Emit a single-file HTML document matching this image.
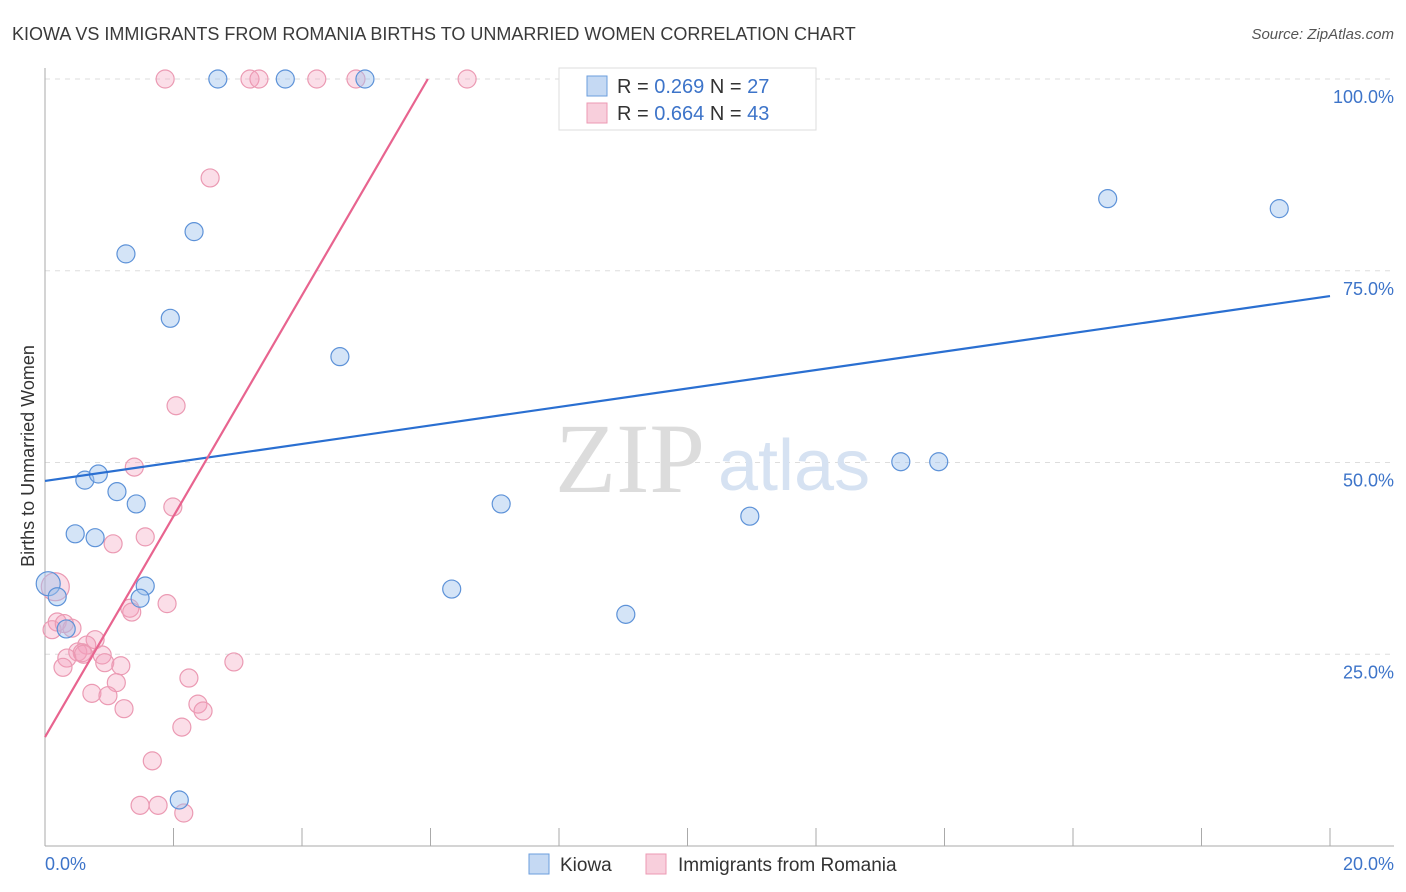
<!DOCTYPE html>
<html><head><meta charset="utf-8"><style>
body{margin:0;background:#fff;font-family:"Liberation Sans",sans-serif}
svg{display:block}
</style></head><body>
<svg id="chart" width="1406" height="892" xmlns="http://www.w3.org/2000/svg">
<text x="12" y="40" font-size="18" fill="#3a3a3a">KIOWA VS IMMIGRANTS FROM ROMANIA BIRTHS TO UNMARRIED WOMEN CORRELATION CHART</text>
<text x="1394" y="39" font-size="15" font-style="italic" fill="#555" text-anchor="end">Source: ZipAtlas.com</text>
<g id="grid"></g>
<g id="axes"></g>
<text x="555" y="492" font-size="100" font-family="Liberation Serif,serif" fill="#dcdcdc">ZIP</text>
<text x="718" y="490" font-size="72" fill="#d6e2f2">atlas</text>
<g id="pts"></g>
<g id="lines"></g>
<text transform="translate(34,456) rotate(-90)" font-size="18" fill="#333" text-anchor="middle">Births to Unmarried Women</text>
<text x="45" y="870" font-size="18" fill="#3d74c9">0.0%</text>
<text x="1394" y="870" font-size="18" fill="#3d74c9" text-anchor="end">20.0%</text>
<g>
<rect x="559" y="68" width="257" height="62" fill="#fff" stroke="#ddd"/>
<rect x="587" y="76" width="20" height="20" fill="#c5d9f3" stroke="#6b9ede"/>
<rect x="587" y="103" width="20" height="20" fill="#f8cfdc" stroke="#ec9ab3"/>
<text x="617" y="93" font-size="20" fill="#333">R = <tspan fill="#3d74c9">0.269</tspan>   N = <tspan fill="#3d74c9">27</tspan></text>
<text x="617" y="120" font-size="20" fill="#333">R = <tspan fill="#3d74c9">0.664</tspan>   N = <tspan fill="#3d74c9">43</tspan></text>
</g>
<g>
<rect x="529" y="854" width="20" height="20" fill="#c5d9f3" stroke="#6b9ede"/>
<text x="560" y="871" font-size="19" fill="#333">Kiowa</text>
<rect x="646" y="854" width="20" height="20" fill="#f8cfdc" stroke="#ec9ab3"/>
<text x="678" y="871" font-size="19" fill="#333">Immigrants from Romania</text>
</g>
</svg>
<script>
const yTicks=[25,50,75,100];
const yTickLabels=["25.0%","50.0%","75.0%","100.0%"];
const xTicks=[0,2,4,6,8,10,12,14,16,18,20];
const kiowaX=[2.69,3.74,4.98,16.54,19.21,1.26,2.32,1.95,4.59,0.62,0.83,1.12,1.42,7.10,13.32,13.91,10.97,0.47,0.78,6.33,9.04,1.56,1.48,0.05,0.19,0.33,2.09];
const kiowaY=[100,100,100,84.4,83.1,77.2,80.1,68.8,63.8,47.7,48.5,46.2,44.6,44.6,50.1,50.1,43.0,40.7,40.2,33.5,30.2,33.9,32.3,34.2,32.5,28.3,6.0];
const romX=[1.87,3.19,3.33,4.23,4.84,6.57,2.57,2.04,1.39,1.99,1.56,1.06,1.90,1.32,1.35,0.16,0.19,0.11,0.42,0.78,0.65,0.51,0.58,0.34,0.28,0.89,0.93,1.18,1.11,0.73,0.98,1.23,2.24,2.38,2.46,2.13,2.94,1.67,1.48,1.76,2.16,0.60,0.30];
const romY=[100,100,100,100,100,100,87.1,57.4,49.4,44.2,40.3,39.4,31.6,31.0,30.5,33.8,29.2,28.2,28.4,26.9,26.2,25.3,25.2,24.5,23.3,24.9,23.9,23.5,21.3,19.9,19.6,17.9,21.9,18.5,17.6,15.5,24.0,11.1,5.3,5.3,4.3,25.0,29.0];
const kiowaLine=[47.6,71.7];
const romLine=[14.2,14.4];
const X=v=>45+v/20*1285, Y=v=>846-v*7.67;
const NS="http://www.w3.org/2000/svg";
function mk(t,a,p){const e=document.createElementNS(NS,t);for(const k in a)e.setAttribute(k,a[k]);p.appendChild(e);return e;}
const grid=document.getElementById('grid'),axes=document.getElementById('axes');
yTicks.forEach((t,i)=>{
 const l=mk('line',{x1:45,x2:1394,y1:Y(t),y2:Y(t),stroke:'#ddd','stroke-dasharray':'5,5'},grid);
 
 
 const tx=mk('text',{x:1394,y:Y(t)+24,'font-size':18,fill:'#3d74c9','text-anchor':'end'},axes);
 tx.textContent=yTickLabels[i];
 
 
});
const ya=mk('line',{x1:45,x2:45,y1:68,y2:846,stroke:'#aaa'},axes);


const xa=mk('line',{x1:45,x2:1394,y1:846,y2:846,stroke:'#aaa'},axes);


xTicks.forEach(t=>{
 const l=mk('line',{x1:X(t),x2:X(t),y1:828,y2:846,stroke:'#aaa'},axes);
 
 
});
const pts=document.getElementById('pts');
romX.forEach((x,i)=>{
 const c=mk('circle',{cx:X(x),cy:Y(romY[i]),r:i==15?14:9,fill:'rgba(244,160,188,0.35)',stroke:'#eb9ab3','stroke-width':1.2},pts);
 
 
});
kiowaX.forEach((x,i)=>{
 const c=mk('circle',{cx:X(x),cy:Y(kiowaY[i]),r:i==23?12:9,fill:'rgba(160,196,238,0.45)',stroke:'#5d92d8','stroke-width':1.2},pts);
 
 
});
const lines=document.getElementById('lines');
const bl=mk('line',{x1:X(0),y1:Y(kiowaLine[0]),x2:X(20),y2:Y(kiowaLine[1]),stroke:'#2a6fd1','stroke-width':2.2},lines);


const xe=(100-romLine[0])/romLine[1];
const pl=mk('line',{x1:X(0),y1:Y(romLine[0]),x2:X(xe),y2:Y(100),stroke:'#e8648f','stroke-width':2.2},lines);


</script>
</body></html>
